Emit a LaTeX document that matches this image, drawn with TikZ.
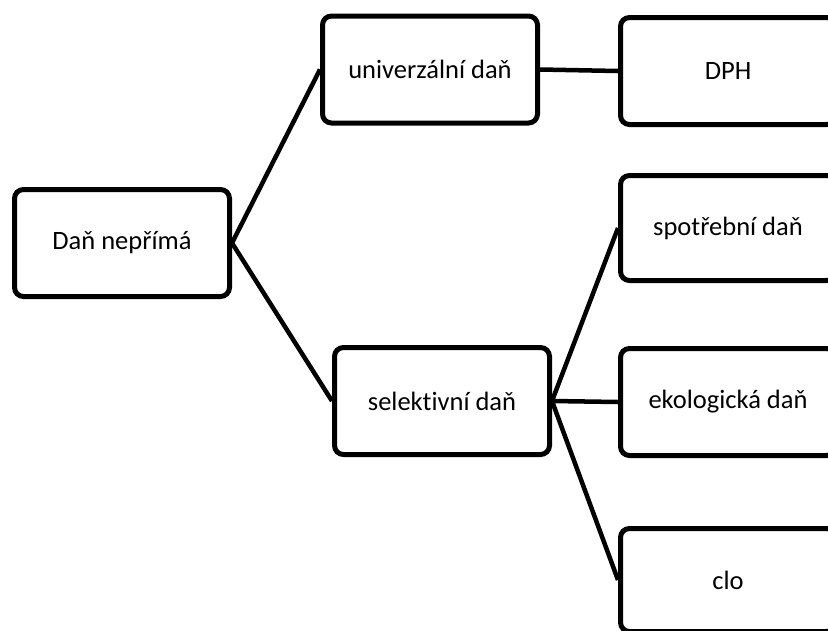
\documentclass[tikz,border=0pt]{standalone}
\usepackage{fontspec}
\setmainfont{Carlito}[Ligatures={NoCommon}]
\begin{document}
\begin{tikzpicture}[x=1pt,y=-1pt,
  box/.style={draw=black,line width=5pt,rounded corners=9pt,fill=white,
    minimum width=215pt,minimum height=107pt,inner sep=0pt,
    font=\fontsize{26.5}{30}\selectfont},
  conn/.style={draw=black,line width=4.5pt}]
\useasboundingbox (0,0) rectangle (828,630);
\clip (0,0) rectangle (828,630);
\node[box] (root) at (122,243) {Daň nepřímá};
\node[box] (uni) at (430,69.5) {univerzální daň};
\node[box] (sel) at (442,401) {selektivní daň};
\node[box] (dph) at (728,71) {DPH};
\node[box,minimum height=105pt] (spot) at (728,228) {spotřební daň};
\node[box] (eko) at (728,402) {ekologická daň};
\node[box,minimum height=103pt] (clo) at (728,580) {clo};
\draw[conn] (root.east) -- (uni.west);
\draw[conn] (root.east) -- (sel.west);
\draw[conn] (uni.east) -- (dph.west);
\draw[conn] (sel.east) -- (spot.west);
\draw[conn] (sel.east) -- (eko.west);
\draw[conn] (sel.east) -- (clo.west);
\end{tikzpicture}
\end{document}
